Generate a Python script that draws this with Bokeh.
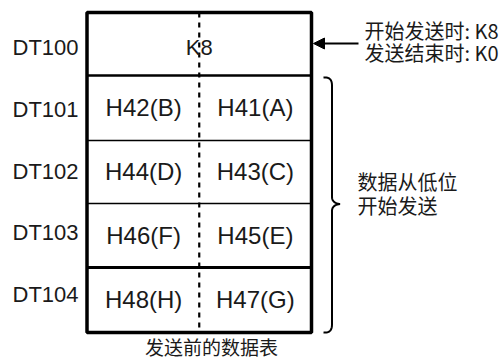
import numpy as np
from bokeh.plotting import figure
from bokeh.models import Arrow, NormalHead, Range1d
from bokeh.core.properties import value
from bokeh.embed import file_html
from bokeh.resources import INLINE

# ---- data ----
row_labels = ["DT100", "DT101", "DT102", "DT103", "DT104"]
header_value = ["K8"]
high_bytes = ["H42(B)", "H44(D)", "H46(F)", "H48(H)"]
low_bytes = ["H41(A)", "H43(C)", "H45(E)", "H47(G)"]
note_header = ["开始发送时: K8", "发送结束时: K0"]
note_data = ["数据从低位", "开始发送"]
caption = ["发送前的数据表"]

# ---- layout constants (pixel space of the reference) ----
BOX_L, BOX_R = 86.5, 311.0
row_edges = [12, 75, 140, 203, 267, 332]
divider_widths = [2.5, 1.5, 1.5, 3.0]
MID = (BOX_L + BOX_R) / 2
LAT = value("Liberation Sans")
CJK = value("Noto Sans CJK SC")
INK = "#1a1a1a"

p = figure(width=503, height=363, x_range=Range1d(0, 503), y_range=Range1d(363, 0),
           output_backend="svg", toolbar_location=None, min_border=0,
           x_axis_location=None, y_axis_location=None)
p.grid.visible = False
p.outline_line_color = None
p.background_fill_color = "white"
p.border_fill_color = "white"

# outer box
p.quad(left=[BOX_L], right=[BOX_R], top=[row_edges[0]], bottom=[row_edges[-1]],
       fill_color=None, line_color="black", line_width=3.5)
# row dividers
for y, w in zip(row_edges[1:-1], divider_widths):
    p.segment(x0=[BOX_L], x1=[BOX_R], y0=[y], y1=[y], line_color="black", line_width=w)
# centre dashed line
p.segment(x0=[MID], x1=[MID], y0=[row_edges[0]], y1=[row_edges[-1]],
          line_color="black", line_width=2.2, line_dash="5 5")

# row labels
n = len(row_labels)
label_y = list(np.linspace(47, 294, n))
p.text(x=[12] * n, y=label_y, text=row_labels, text_font=LAT, text_font_size="22px",
       text_color=INK, text_align="left", text_baseline="middle")

# header cell
p.text(x=[MID], y=[label_y[0]], text=header_value, text_font=LAT, text_font_size="22px",
       text_color=INK, text_align="center", text_baseline="middle")

# byte cells
m = len(high_bytes)
cell_y = [(row_edges[i + 1] + row_edges[i + 2]) / 2 - 0.5 for i in range(m)]
left_c = (BOX_L + MID) / 2 + 0.5
right_c = (MID + BOX_R) / 2
p.text(x=[left_c] * m, y=cell_y, text=high_bytes, text_font=LAT, text_font_size="24px",
       text_color=INK, text_align="center", text_baseline="middle")
p.text(x=[right_c] * m, y=cell_y, text=low_bytes, text_font=LAT, text_font_size="24px",
       text_color=INK, text_align="center", text_baseline="middle")

# arrow to header
ay = 43
p.add_layout(Arrow(end=NormalHead(size=11, fill_color="black", line_color="black"),
                   x_start=358, y_start=ay, x_end=BOX_R + 2, y_end=ay,
                   line_color="black", line_width=2))
p.text(x=[364] * 2, y=[30, 52], text=note_header, text_font=CJK, text_font_size="20px",
       text_color=INK, text_align="left", text_baseline="middle")

# brace
def qbez(p0, c, p1, k=12):
    t = np.linspace(0, 1, k)
    return ((1 - t) ** 2 * p0[0] + 2 * (1 - t) * t * c[0] + t ** 2 * p1[0],
            (1 - t) ** 2 * p0[1] + 2 * (1 - t) * t * c[1] + t ** 2 * p1[1])

top, bot = row_edges[1] + 2, row_edges[-1]
tip_y = (top + bot) / 2 - 1
bx, tipx = 331.5, 339.5
segs = [
    qbez((323, top), (331.5, top - 1), (bx, top + 8)),
    (np.array([bx, bx]), np.array([top + 8, tip_y - 7])),
    qbez((bx, tip_y - 7), (bx, tip_y - 1), (tipx, tip_y)),
    qbez((tipx, tip_y), (bx, tip_y + 1), (bx, tip_y + 7)),
    (np.array([bx, bx]), np.array([tip_y + 7, bot - 8])),
    qbez((bx, bot - 8), (331.5, bot + 1), (323, bot)),
]
xs = np.concatenate([s[0] for s in segs])
ys = np.concatenate([s[1] for s in segs])
p.line(xs, ys, line_color="black", line_width=2)
p.text(x=[357] * 2, y=[181, 205], text=note_data, text_font=CJK, text_font_size="20px",
       text_color=INK, text_align="left", text_baseline="middle")

# caption
p.text(x=[211], y=[346], text=caption, text_font=CJK, text_font_size="19px",
       text_color=INK, text_align="center", text_baseline="middle")

open("out.html", "w").write(file_html(p, INLINE))
